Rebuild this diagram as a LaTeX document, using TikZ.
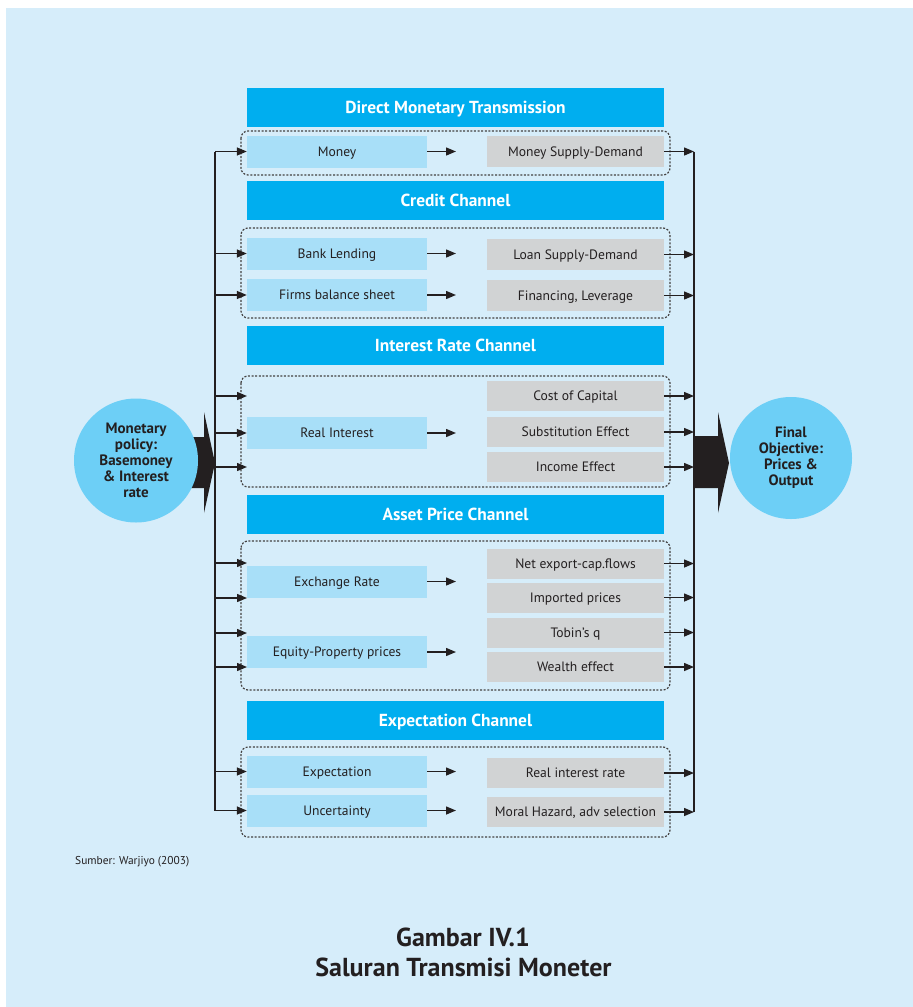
\documentclass[tikz,border=0pt]{standalone}
\usepackage{fontspec}
\setmainfont{PT Sans}
\usetikzlibrary{arrows.meta}
\definecolor{bg}{HTML}{D6EDFA}
\definecolor{hdrc}{HTML}{00AEEF}
\definecolor{lbc}{HTML}{A8DFF8}
\definecolor{rbc}{HTML}{D1D3D4}
\definecolor{circc}{HTML}{6DCFF6}
\definecolor{ink}{HTML}{231F20}
\begin{document}
\begin{tikzpicture}[x=1pt,y=-1pt,
 hdr/.style={fill=hdrc, text=white, font=\fontsize{17.4}{19}\selectfont\bfseries, minimum width=417pt, minimum height=39pt, inner sep=0pt, text height=12pt, text depth=0pt},
 lbox/.style={fill=lbc, text=ink, font=\fontsize{13.6}{16}\selectfont, minimum width=180pt, minimum height=32pt, inner sep=0pt, text height=9.5pt, text depth=0pt},
 rbox/.style={fill=rbc, text=ink, font=\fontsize{13.6}{16}\selectfont, minimum width=177pt, minimum height=30pt, inner sep=0pt, text height=9.5pt, text depth=0pt},
 grp/.style={draw=ink!85, line width=1.2pt, dash pattern=on 2pt off 1.6pt, rounded corners=7pt},
 arr/.style={draw=ink, line width=1.4pt, -{Triangle[length=10pt,width=8pt]}},
 ln/.style={draw=ink, line width=1.4pt},
 bigarr/.style={fill=ink},
 circ/.style={circle, fill=circc, inner sep=0pt, align=center, text=ink, font=\fontsize{15}{16}\selectfont\bfseries}]
\useasboundingbox (0,0) rectangle (913,1007);
\fill[white] (0,0) rectangle (913,1007);
\fill[bg] (6,8) rectangle (913,1007);

% headers
\node[hdr] (h1) at (455.5,107.5) {Direct Monetary Transmission};
\node[hdr] (h2) at (455.5,200) {Credit Channel};
\node[hdr] (h3) at (455.5,345.5) {Interest Rate Channel};
\node[hdr] (h4) at (455.5,514.5) {Asset Price Channel};
\node[hdr] (h5) at (455.5,720.5) {Expectation Channel};

% groups
\draw[grp] (241,131) rectangle (670,175);
\draw[grp] (241,228) rectangle (670,318);
\draw[grp] (241,376) rectangle (670,487);
\draw[grp] (241,541) rectangle (670,690);
\draw[grp] (241,747) rectangle (670,837);

% left boxes
\node[lbox] (money) at (337,151.5) {Money};
\node[lbox] (bank) at (337,253.5) {Bank Lending};
\node[lbox] (firms) at (337,295) {Firms balance sheet};
\node[lbox] (realint) at (337,433) {Real Interest};
\node[lbox] (exch) at (337,581.5) {Exchange Rate};
\node[lbox] (equity) at (337,652) {Equity-Property prices};
\node[lbox] (expect) at (337,771.5) {Expectation};
\node[lbox] (uncert) at (337,810.5) {Uncertainty};

% right boxes
\node[rbox, minimum height=31pt] (msd) at (575.5,151.5) {Money Supply-Demand};
\node[rbox, minimum height=31pt] (lsd) at (575.5,254.5) {Loan Supply-Demand};
\node[rbox, minimum height=31pt] (fin) at (575.5,295.5) {Financing, Leverage};
\node[rbox] (coc) at (575.5,396) {Cost of Capital};
\node[rbox] (sub) at (575.5,432) {Substitution Effect};
\node[rbox] (inc) at (575.5,467) {Income Effect};
\node[rbox] (nex) at (575.5,563.5) {Net export-cap.flows};
\node[rbox] (imp) at (575.5,597.5) {Imported prices};
\node[rbox] (tob) at (575.5,632.5) {Tobin’s q};
\node[rbox] (wea) at (575.5,667) {Wealth effect};
\node[rbox] (rir) at (575.5,773) {Real interest rate};
\node[rbox] (moral) at (575.5,812) {Moral Hazard, adv selection};

% middle arrows
\coordinate (m1) at (456,151.5);
\coordinate (m2) at (456,253.5);
\coordinate (m3) at (456,295);
\coordinate (m4) at (456,433);
\coordinate (m5) at (456,581.5);
\coordinate (m6) at (456,652);
\coordinate (m7) at (456,771.5);
\coordinate (m8) at (456,810.5);
\draw[arr] (money.east) -- (m1);
\draw[arr] (bank.east) -- (m2);
\draw[arr] (firms.east) -- (m3);
\draw[arr] (realint.east) -- (m4);
\draw[arr] (exch.east) -- (m5);
\draw[arr] (equity.east) -- (m6);
\draw[arr] (expect.east) -- (m7);
\draw[arr] (uncert.east) -- (m8);

% left distribution line
\coordinate (Ltop) at (215,151.5);
\coordinate (Lbot) at (215,810.5);
\draw[ln] (Ltop) -- (Lbot);
\coordinate (L2) at (215,253.5);
\coordinate (L3) at (215,295);
\coordinate (L4) at (215,396);
\coordinate (L5) at (215,433);
\coordinate (L6) at (215,467);
\coordinate (L7) at (215,563);
\coordinate (L8) at (215,598);
\coordinate (L9) at (215,633);
\coordinate (L10) at (215,667);
\coordinate (L11) at (215,771.5);
\coordinate (e4) at (247,396);
\coordinate (e6) at (247,467);
\coordinate (e7) at (247,563);
\coordinate (e8) at (247,598);
\coordinate (e9) at (247,633);
\coordinate (e10) at (247,667);
\draw[arr] (Ltop) -- (money.west);
\draw[arr] (L2) -- (bank.west);
\draw[arr] (L3) -- (firms.west);
\draw[arr] (L4) -- (e4);
\draw[arr] (L5) -- (realint.west);
\draw[arr] (L6) -- (e6);
\draw[arr] (L7) -- (e7);
\draw[arr] (L8) -- (e8);
\draw[arr] (L9) -- (e9);
\draw[arr] (L10) -- (e10);
\draw[arr] (L11) -- (expect.west);
\draw[arr] (Lbot) -- (uncert.west);

% right collecting line
\coordinate (Rtop) at (694,151.5);
\coordinate (Rbot) at (694,812);
\draw[ln] (Rtop) -- (Rbot);
\coordinate (R2) at (694,254.5);
\coordinate (R3) at (694,295.5);
\coordinate (R4) at (694,396);
\coordinate (R5) at (694,432);
\coordinate (R6) at (694,467);
\coordinate (R7) at (694,563.5);
\coordinate (R8) at (694,597.5);
\coordinate (R9) at (694,632.5);
\coordinate (R10) at (694,667);
\coordinate (R11) at (694,773);
\draw[arr] (msd.east) -- (Rtop);
\draw[arr] (lsd.east) -- (R2);
\draw[arr] (fin.east) -- (R3);
\draw[arr] (coc.east) -- (R4);
\draw[arr] (sub.east) -- (R5);
\draw[arr] (inc.east) -- (R6);
\draw[arr] (nex.east) -- (R7);
\draw[arr] (imp.east) -- (R8);
\draw[arr] (tob.east) -- (R9);
\draw[arr] (wea.east) -- (R10);
\draw[arr] (rir.east) -- (R11);
\draw[arr] (moral.east) -- (Rbot);

% big arrows
\fill[bigarr] (180,437) -- (204,437) -- (204,412) -- (215,463) -- (204,513) -- (204,488) -- (180,488) -- cycle;
\fill[bigarr] (694,436) -- (718,436) -- (718,412) -- (729,463) -- (718,513) -- (718,488) -- (694,488) -- cycle;

% circles
\node[circ, minimum size=124pt] (policy) at (136,460.5) {Monetary\\policy:\\Basemoney\\\& Interest\\rate};
\node[circ, minimum size=122pt] (final) at (791,458) {Final\\Objective:\\Prices \&\\Output};

% source and caption
\node[anchor=west, text=ink, font=\fontsize{11.4}{13}\selectfont, inner sep=0pt] (src) at (75,862) {Sumber: Warjiyo (2003)};
\node[text=ink, font=\fontsize{26}{30}\selectfont\bfseries, inner sep=0pt] (cap1) at (463,937) {Gambar IV.1};
\node[text=ink, font=\fontsize{26}{30}\selectfont\bfseries, inner sep=0pt] (cap2) at (463.5,967) {Saluran Transmisi Moneter};
\end{tikzpicture}
\end{document}
